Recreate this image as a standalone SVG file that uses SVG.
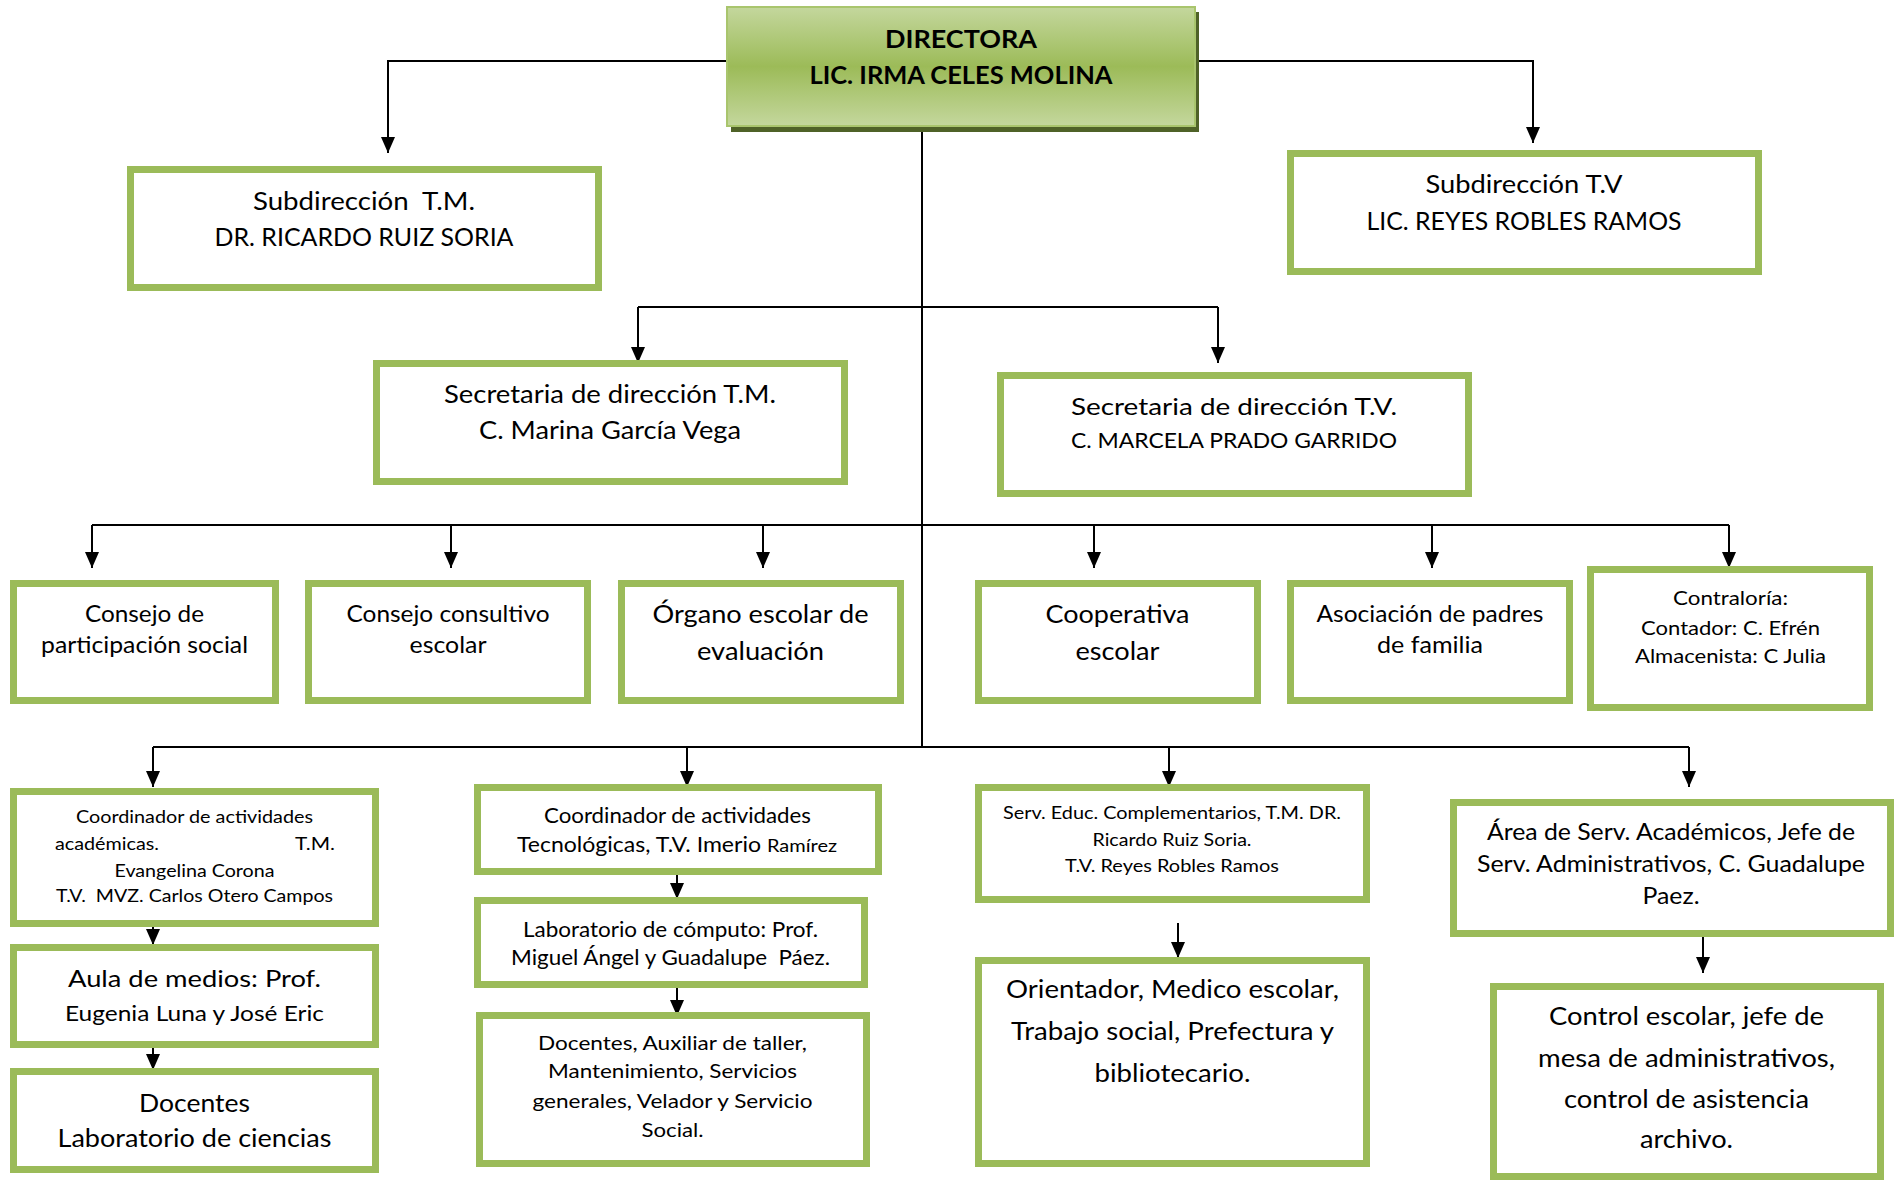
<svg xmlns="http://www.w3.org/2000/svg" width="1900" height="1180" viewBox="0 0 1900 1180">
<defs>
<linearGradient id="gDir" x1="0" y1="0" x2="0" y2="1">
<stop offset="0" stop-color="#C4D79D"/>
<stop offset="0.5" stop-color="#9CBB58"/>
<stop offset="1" stop-color="#C4D79D"/>
</linearGradient>
<marker id="ah" viewBox="0 0 16 14" refX="16" refY="7" markerWidth="16" markerHeight="14" markerUnits="userSpaceOnUse" orient="auto">
<path d="M0,0 L16,7 L0,14 z" fill="#000"/>
</marker>
<style>
.box{fill:#fff;stroke:#9BBB59;stroke-width:7}
.t{font-family:Lato,"Liberation Sans",sans-serif;fill:#000;text-anchor:middle}
.s{text-anchor:start}
.b{font-weight:bold}
.c{fill:none;stroke:#000;stroke-width:2}
.a{marker-end:url(#ah)}
</style>
</defs>

<g id="connectors">
<polyline class="c a" points="727,61 388,61 388,153"/>
<polyline class="c a" points="1196,61 1533,61 1533,143"/>
<line class="c" x1="922" y1="127" x2="922" y2="747"/>
<line class="c" x1="638" y1="307" x2="1218" y2="307"/>
<line class="c a" x1="638" y1="307" x2="638" y2="363"/>
<line class="c a" x1="1218" y1="307" x2="1218" y2="363"/>
<line class="c" x1="92" y1="525" x2="1729" y2="525"/>
<line class="c a" x1="92" y1="525" x2="92" y2="568"/>
<line class="c a" x1="451" y1="525" x2="451" y2="568"/>
<line class="c a" x1="763" y1="525" x2="763" y2="568"/>
<line class="c a" x1="1094" y1="525" x2="1094" y2="568"/>
<line class="c a" x1="1432" y1="525" x2="1432" y2="568"/>
<line class="c a" x1="1729" y1="525" x2="1729" y2="568"/>
<line class="c" x1="153" y1="747" x2="1689" y2="747"/>
<line class="c a" x1="153" y1="747" x2="153" y2="787"/>
<line class="c a" x1="687" y1="747" x2="687" y2="787"/>
<line class="c a" x1="1169" y1="747" x2="1169" y2="787"/>
<line class="c a" x1="1689" y1="747" x2="1689" y2="787"/>
<line class="c a" x1="153" y1="920" x2="153" y2="945"/>
<line class="c a" x1="153" y1="1045" x2="153" y2="1070"/>
<line class="c a" x1="677" y1="873" x2="677" y2="899"/>
<line class="c a" x1="677" y1="985" x2="677" y2="1016"/>
<line class="c a" x1="1178" y1="923" x2="1178" y2="958"/>
<line class="c a" x1="1703" y1="932" x2="1703" y2="973"/>
</g>

<g id="directora">
<rect x="731" y="12" width="468" height="120" fill="#4F6228"/>
<rect x="727" y="7" width="468" height="119" fill="url(#gDir)" stroke="#A9C56D" stroke-width="2"/>
<text class="t b" x="961" y="48" font-size="25" textLength="152" lengthAdjust="spacingAndGlyphs">DIRECTORA</text>
<text class="t b" x="961" y="84" font-size="25" textLength="303" lengthAdjust="spacingAndGlyphs">LIC. IRMA CELES MOLINA</text>
</g>

<g id="subdir-tm">
<rect class="box" x="130.5" y="169.5" width="468" height="118"/>
<text class="t" x="364" y="210" font-size="25" textLength="222" lengthAdjust="spacingAndGlyphs" xml:space="preserve">Subdirección  T.M.</text>
<text class="t" x="364" y="246" font-size="25" textLength="299" lengthAdjust="spacingAndGlyphs">DR. RICARDO RUIZ SORIA</text>
</g>

<g id="subdir-tv">
<rect class="box" x="1290.5" y="153.5" width="468" height="118"/>
<text class="t" x="1524" y="193" font-size="25" textLength="197" lengthAdjust="spacingAndGlyphs">Subdirección T.V</text>
<text class="t" x="1524" y="230" font-size="25" textLength="315" lengthAdjust="spacingAndGlyphs">LIC. REYES ROBLES RAMOS</text>
</g>

<g id="secretaria-tm">
<rect class="box" x="376.5" y="363.5" width="468" height="118"/>
<text class="t" x="610" y="403" font-size="25" textLength="332" lengthAdjust="spacingAndGlyphs">Secretaria de dirección T.M.</text>
<text class="t" x="610" y="439" font-size="25" textLength="262" lengthAdjust="spacingAndGlyphs">C. Marina García Vega</text>
</g>

<g id="secretaria-tv">
<rect class="box" x="1000.5" y="375.5" width="468" height="118"/>
<text class="t" x="1234" y="415" font-size="24" textLength="326" lengthAdjust="spacingAndGlyphs">Secretaria de dirección T.V.</text>
<text class="t" x="1234" y="448" font-size="21" textLength="326" lengthAdjust="spacingAndGlyphs">C. MARCELA PRADO GARRIDO</text>
</g>

<g id="consejo-participacion">
<rect class="box" x="13.5" y="583.5" width="262" height="117"/>
<text class="t" x="144.5" y="622" font-size="23.5" textLength="119" lengthAdjust="spacingAndGlyphs">Consejo de</text>
<text class="t" x="144.5" y="653" font-size="23.5" textLength="207" lengthAdjust="spacingAndGlyphs">participación social</text>
</g>

<g id="consejo-consultivo">
<rect class="box" x="308.5" y="583.5" width="279" height="117"/>
<text class="t" x="448" y="622" font-size="23.5" textLength="203" lengthAdjust="spacingAndGlyphs">Consejo consultivo</text>
<text class="t" x="448" y="653" font-size="23.5" textLength="77" lengthAdjust="spacingAndGlyphs">escolar</text>
</g>

<g id="organo-escolar">
<rect class="box" x="621.5" y="583.5" width="279" height="117"/>
<text class="t" x="760.5" y="623" font-size="25.5" textLength="216" lengthAdjust="spacingAndGlyphs">Órgano escolar de</text>
<text class="t" x="760.5" y="660" font-size="25.5" textLength="127" lengthAdjust="spacingAndGlyphs">evaluación</text>
</g>

<g id="cooperativa">
<rect class="box" x="978.5" y="583.5" width="279" height="117"/>
<text class="t" x="1117.5" y="623" font-size="25.5" textLength="144" lengthAdjust="spacingAndGlyphs">Cooperativa</text>
<text class="t" x="1117.5" y="660" font-size="25.5" textLength="84" lengthAdjust="spacingAndGlyphs">escolar</text>
</g>

<g id="asociacion-padres">
<rect class="box" x="1290.5" y="583.5" width="279" height="117"/>
<text class="t" x="1430" y="622" font-size="23.5" textLength="227" lengthAdjust="spacingAndGlyphs">Asociación de padres</text>
<text class="t" x="1430" y="653" font-size="23.5" textLength="106" lengthAdjust="spacingAndGlyphs">de familia</text>
</g>

<g id="contraloria">
<rect class="box" x="1590.5" y="569.5" width="279" height="138"/>
<text class="t" x="1730.5" y="605" font-size="20" textLength="115" lengthAdjust="spacingAndGlyphs">Contraloría:</text>
<text class="t" x="1730.5" y="635" font-size="20" textLength="179" lengthAdjust="spacingAndGlyphs">Contador: C. Efrén</text>
<text class="t" x="1730.5" y="663" font-size="20" textLength="191" lengthAdjust="spacingAndGlyphs">Almacenista: C Julia</text>
</g>

<g id="coord-academicas">
<rect class="box" x="13.5" y="791.5" width="362" height="132"/>
<text class="t" x="194.5" y="823" font-size="17.5" textLength="237" lengthAdjust="spacingAndGlyphs">Coordinador de actividades</text>
<text class="t s" x="55" y="850" font-size="17.5" textLength="104" lengthAdjust="spacingAndGlyphs">académicas.</text>
<text class="t s" x="295" y="850" font-size="17.5" textLength="40" lengthAdjust="spacingAndGlyphs">T.M.</text>
<text class="t" x="194.5" y="877" font-size="17.5" textLength="160" lengthAdjust="spacingAndGlyphs">Evangelina Corona</text>
<text class="t" x="194.5" y="902" font-size="17.5" textLength="277" lengthAdjust="spacingAndGlyphs" xml:space="preserve">T.V.  MVZ. Carlos Otero Campos</text>
</g>

<g id="aula-medios">
<rect class="box" x="13.5" y="947.5" width="362" height="97"/>
<text class="t" x="194.5" y="987" font-size="24" textLength="253" lengthAdjust="spacingAndGlyphs">Aula de medios: Prof.</text>
<text class="t" x="194.5" y="1021" font-size="22" textLength="259" lengthAdjust="spacingAndGlyphs">Eugenia Luna y José Eric</text>
</g>

<g id="docentes-lab">
<rect class="box" x="13.5" y="1071.5" width="362" height="98"/>
<text class="t" x="194.5" y="1112" font-size="25" textLength="111" lengthAdjust="spacingAndGlyphs">Docentes</text>
<text class="t" x="194.5" y="1147" font-size="25" textLength="274" lengthAdjust="spacingAndGlyphs">Laboratorio de ciencias</text>
</g>

<g id="coord-tecnologicas">
<rect class="box" x="477.5" y="787.5" width="401" height="84"/>
<text class="t" x="677.5" y="823" font-size="20.5" textLength="267" lengthAdjust="spacingAndGlyphs">Coordinador de actividades</text>
<text class="t s" x="517" y="852" font-size="20.5" xml:space="preserve"><tspan textLength="244" lengthAdjust="spacingAndGlyphs">Tecnológicas, T.V. Imerio</tspan><tspan x="767" font-size="17" textLength="70" lengthAdjust="spacingAndGlyphs">Ramírez</tspan></text>
</g>

<g id="lab-computo">
<rect class="box" x="477.5" y="900.5" width="387" height="84"/>
<text class="t" x="670.5" y="937" font-size="20.5" textLength="295" lengthAdjust="spacingAndGlyphs">Laboratorio de cómputo: Prof.</text>
<text class="t" x="670.5" y="965" font-size="20.5" textLength="319" lengthAdjust="spacingAndGlyphs" xml:space="preserve">Miguel Ángel y Guadalupe  Páez.</text>
</g>

<g id="docentes-auxiliar">
<rect class="box" x="479.5" y="1015.5" width="387" height="148"/>
<text class="t" x="672.5" y="1050" font-size="20" textLength="269" lengthAdjust="spacingAndGlyphs">Docentes, Auxiliar de taller,</text>
<text class="t" x="672.5" y="1078" font-size="20" textLength="249" lengthAdjust="spacingAndGlyphs">Mantenimiento, Servicios</text>
<text class="t" x="672.5" y="1108" font-size="20" textLength="280" lengthAdjust="spacingAndGlyphs">generales, Velador y Servicio</text>
<text class="t" x="672.5" y="1137" font-size="20" textLength="62" lengthAdjust="spacingAndGlyphs">Social.</text>
</g>

<g id="serv-educ">
<rect class="box" x="978.5" y="787.5" width="388" height="112"/>
<text class="t" x="1172" y="819" font-size="18" textLength="338" lengthAdjust="spacingAndGlyphs">Serv. Educ. Complementarios, T.M. DR.</text>
<text class="t" x="1172" y="846" font-size="18" textLength="159" lengthAdjust="spacingAndGlyphs">Ricardo Ruiz Soria.</text>
<text class="t" x="1172" y="872" font-size="18" textLength="214" lengthAdjust="spacingAndGlyphs">T.V. Reyes Robles Ramos</text>
</g>

<g id="orientador">
<rect class="box" x="978.5" y="960.5" width="388" height="203"/>
<text class="t" x="1172.5" y="998" font-size="25.5" textLength="333" lengthAdjust="spacingAndGlyphs">Orientador, Medico escolar,</text>
<text class="t" x="1172.5" y="1040" font-size="25.5" textLength="323" lengthAdjust="spacingAndGlyphs">Trabajo social, Prefectura y</text>
<text class="t" x="1172.5" y="1082" font-size="25.5" textLength="156" lengthAdjust="spacingAndGlyphs">bibliotecario.</text>
</g>

<g id="area-serv">
<rect class="box" x="1453.5" y="802.5" width="437" height="131"/>
<text class="t" x="1671" y="840" font-size="23" textLength="368" lengthAdjust="spacingAndGlyphs">Área de Serv. Académicos, Jefe de</text>
<text class="t" x="1671" y="872" font-size="23" textLength="388" lengthAdjust="spacingAndGlyphs">Serv. Administrativos, C. Guadalupe</text>
<text class="t" x="1671" y="904" font-size="23" textLength="57" lengthAdjust="spacingAndGlyphs">Paez.</text>
</g>

<g id="control-escolar">
<rect class="box" x="1493.5" y="986.5" width="387" height="190"/>
<text class="t" x="1686.5" y="1025" font-size="25" textLength="275" lengthAdjust="spacingAndGlyphs">Control escolar, jefe de</text>
<text class="t" x="1686.5" y="1067" font-size="25" textLength="297" lengthAdjust="spacingAndGlyphs">mesa de administrativos,</text>
<text class="t" x="1686.5" y="1108" font-size="25" textLength="245" lengthAdjust="spacingAndGlyphs">control de asistencia</text>
<text class="t" x="1686.5" y="1148" font-size="25" textLength="93" lengthAdjust="spacingAndGlyphs">archivo.</text>
</g>
</svg>
